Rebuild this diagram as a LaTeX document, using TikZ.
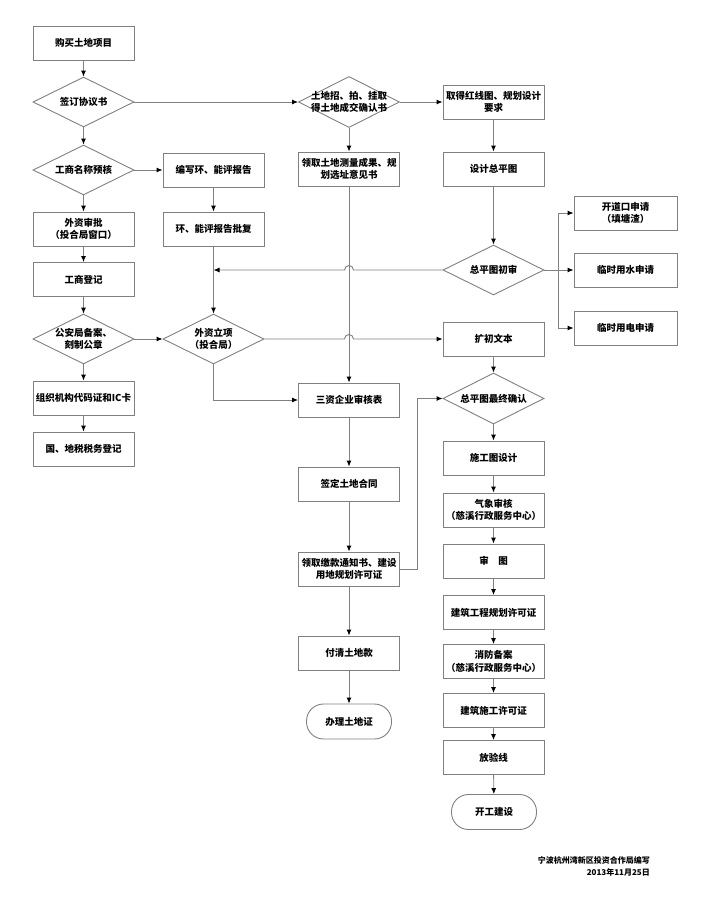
\documentclass[tikz,border=0pt]{standalone}
\usepackage{fontspec}
\setmainfont{Noto Sans CJK SC}
\usetikzlibrary{shapes.geometric,arrows.meta}
\definecolor{lg}{RGB}{128,128,128}
\begin{document}
\begin{tikzpicture}[x=1pt,y=1pt,
  font=\fontsize{9.5}{12.5}\selectfont\bfseries,
  box/.style={draw=lg, line width=0.9pt, fill=white, minimum width=101pt, minimum height=34pt, inner sep=1.5pt, align=center},
  rbox/.style={box, minimum width=103pt},
  term/.style={box, rounded corners=17pt, minimum width=85pt, minimum height=35pt},
  dia/.style={shape=diamond, draw=lg, line width=0.9pt, fill=white, inner sep=0pt, minimum width=101pt, minimum height=50pt},
  lbl/.style={align=center, inner sep=0pt},
  arr/.style={draw=lg, line width=0.9pt, -{Latex[length=6pt,width=5pt,black]}},
  ln/.style={draw=lg, line width=0.9pt}]
\useasboundingbox (0,0) rectangle (710,-900);

% left column
\node[box] (a1) at (83.5,-43) {购买土地项目};
\node[dia, label={[lbl]center:签订协议书}] (d1) at (83.5,-102) {};
\node[dia, label={[lbl]center:工商名称预核}] (d2) at (83.5,-170) {};
\node[box] (a2) at (83.5,-229) {外资审批\\（投合局窗口）};
\node[box] (a3) at (83.5,-279.5) {工商登记};
\node[dia, label={[lbl]center:{公安局备案、\\刻制公章}}] (d3) at (83.5,-339) {};
\node[box] (a4) at (83.5,-398) {组织机构代码证和IC卡};
\node[box] (a5) at (83.5,-449) {国、地税税务登记};

% second column
\node[box] (b1) at (213.5,-170) {编写环、能评报告};
\node[box] (b2) at (213.5,-229) {环、能评报告批复};
\node[dia, label={[lbl]center:{外资立项\\（投合局）}}] (d4) at (213.5,-339) {};

% third column
\node[dia, minimum height=51pt, label={[lbl]center:{土地招、拍、挂取\\得土地成交确认书}}] (d5) at (349,-102) {};
\node[box] (c1) at (349,-169) {领取土地测量成果、规\\划选址意见书};
\node[box] (c2) at (349,-400) {三资企业审核表};
\node[box] (c3) at (349,-484) {签定土地合同};
\node[box] (c4) at (349,-569) {领取缴款通知书、建设\\用地规划许可证};
\node[box] (c5) at (349,-653) {付清土地款};
\node[term] (c6) at (349,-721.5) {办理土地证};

% fourth column
\node[box] (e1) at (493.5,-102) {取得红线图、规划设计\\要求};
\node[box] (e2) at (493.5,-169) {设计总平图};
\node[dia, label={[lbl]center:总平图初审}] (d6) at (493.5,-270) {};
\node[box] (e3) at (493.5,-339) {扩初文本};
\node[dia, minimum height=51pt, label={[lbl]center:总平图最终确认}] (d7) at (493.5,-398.5) {};
\node[box] (e4) at (493.5,-458) {施工图设计};
\node[box] (e5) at (493.5,-510) {气象审核\\（慈溪行政服务中心）};
\node[box] (e6) at (493.5,-561) {审\hspace{1em}图};
\node[box] (e7) at (493.5,-612.5) {建筑工程规划许可证};
\node[box] (e8) at (493.5,-661.5) {消防备案\\（慈溪行政服务中心）};
\node[box] (e9) at (493.5,-710.5) {建筑施工许可证};
\node[box] (e10) at (493.5,-757.5) {放验线};
\node[term] (e11) at (494,-812) {开工建设};

% fifth column
\node[rbox] (f1) at (625.5,-213) {开道口申请\\（填塘渣）};
\node[rbox] (f2) at (625.5,-270) {临时用水申请};
\node[rbox] (f3) at (625.5,-328) {临时用电申请};

% footer
\node[anchor=east, align=right, inner sep=0pt, font=\fontsize{8}{12}\selectfont\bfseries] (ft) at (650,-866) {宁波杭州湾新区投资合作局编写\\2013年11月25日};

% connectors: left column
\draw[arr] (a1) -- (d1);
\draw[arr] (d1) -- (d2);
\draw[arr] (d2) -- (a2);
\draw[arr] (a2) -- (a3);
\draw[arr] (a3) -- (d3);
\draw[arr] (d3) -- (a4);
\draw[arr] (a4) -- (a5);
\draw[arr] (d1.east) -- (d5.west);
\draw[arr] (d2.east) -- (b1.west);
\draw[arr] (b1) -- (b2);
\draw[arr] (b2) -- (d4);
\draw[arr] (d3.east) -- (d4.west);
\draw[arr] (d4.south) |- (c2.west);
\draw[arr] (d4.east) -- ([xshift=-4.5pt]c1.south |- d4.east) arc[start angle=180,end angle=0,radius=4.5pt] -- (e3.west);

% third column
\draw[arr] (d5) -- (c1);
\draw[arr] (d5.east) -- (e1.west);
\draw[arr] (c1) -- (c2);
\draw[arr] (c2) -- (c3);
\draw[arr] (c3) -- (c4);
\draw[arr] (c4) -- (c5);
\draw[arr] (c5) -- (c6);
\draw[arr] (c4.east) -- ++(17,0) |- (d7.west);

% fourth column
\draw[arr] (e1) -- (e2);
\draw[arr] (e2) -- (d6);
\draw[arr] (d6.west) -- ([xshift=4.5pt]c1.south |- d6.west) arc[start angle=0,end angle=180,radius=4.5pt] -- (b2.south |- d6.west);
\coordinate (j) at (558,-270);
\draw[arr] (d6.east) -- (f2.west);
\draw[arr] (j) |- (f1.west);
\draw[arr] (j) |- (f3.west);
\draw[arr] (e3) -- (d7);
\draw[arr] (d7) -- (e4);
\draw[arr] (e4) -- (e5);
\draw[arr] (e5) -- (e6);
\draw[arr] (e6) -- (e7);
\draw[arr] (e7) -- (e8);
\draw[arr] (e8) -- (e9);
\draw[arr] (e9) -- (e10);
\draw[arr] (e10) -- (e11);
\end{tikzpicture}
\end{document}
